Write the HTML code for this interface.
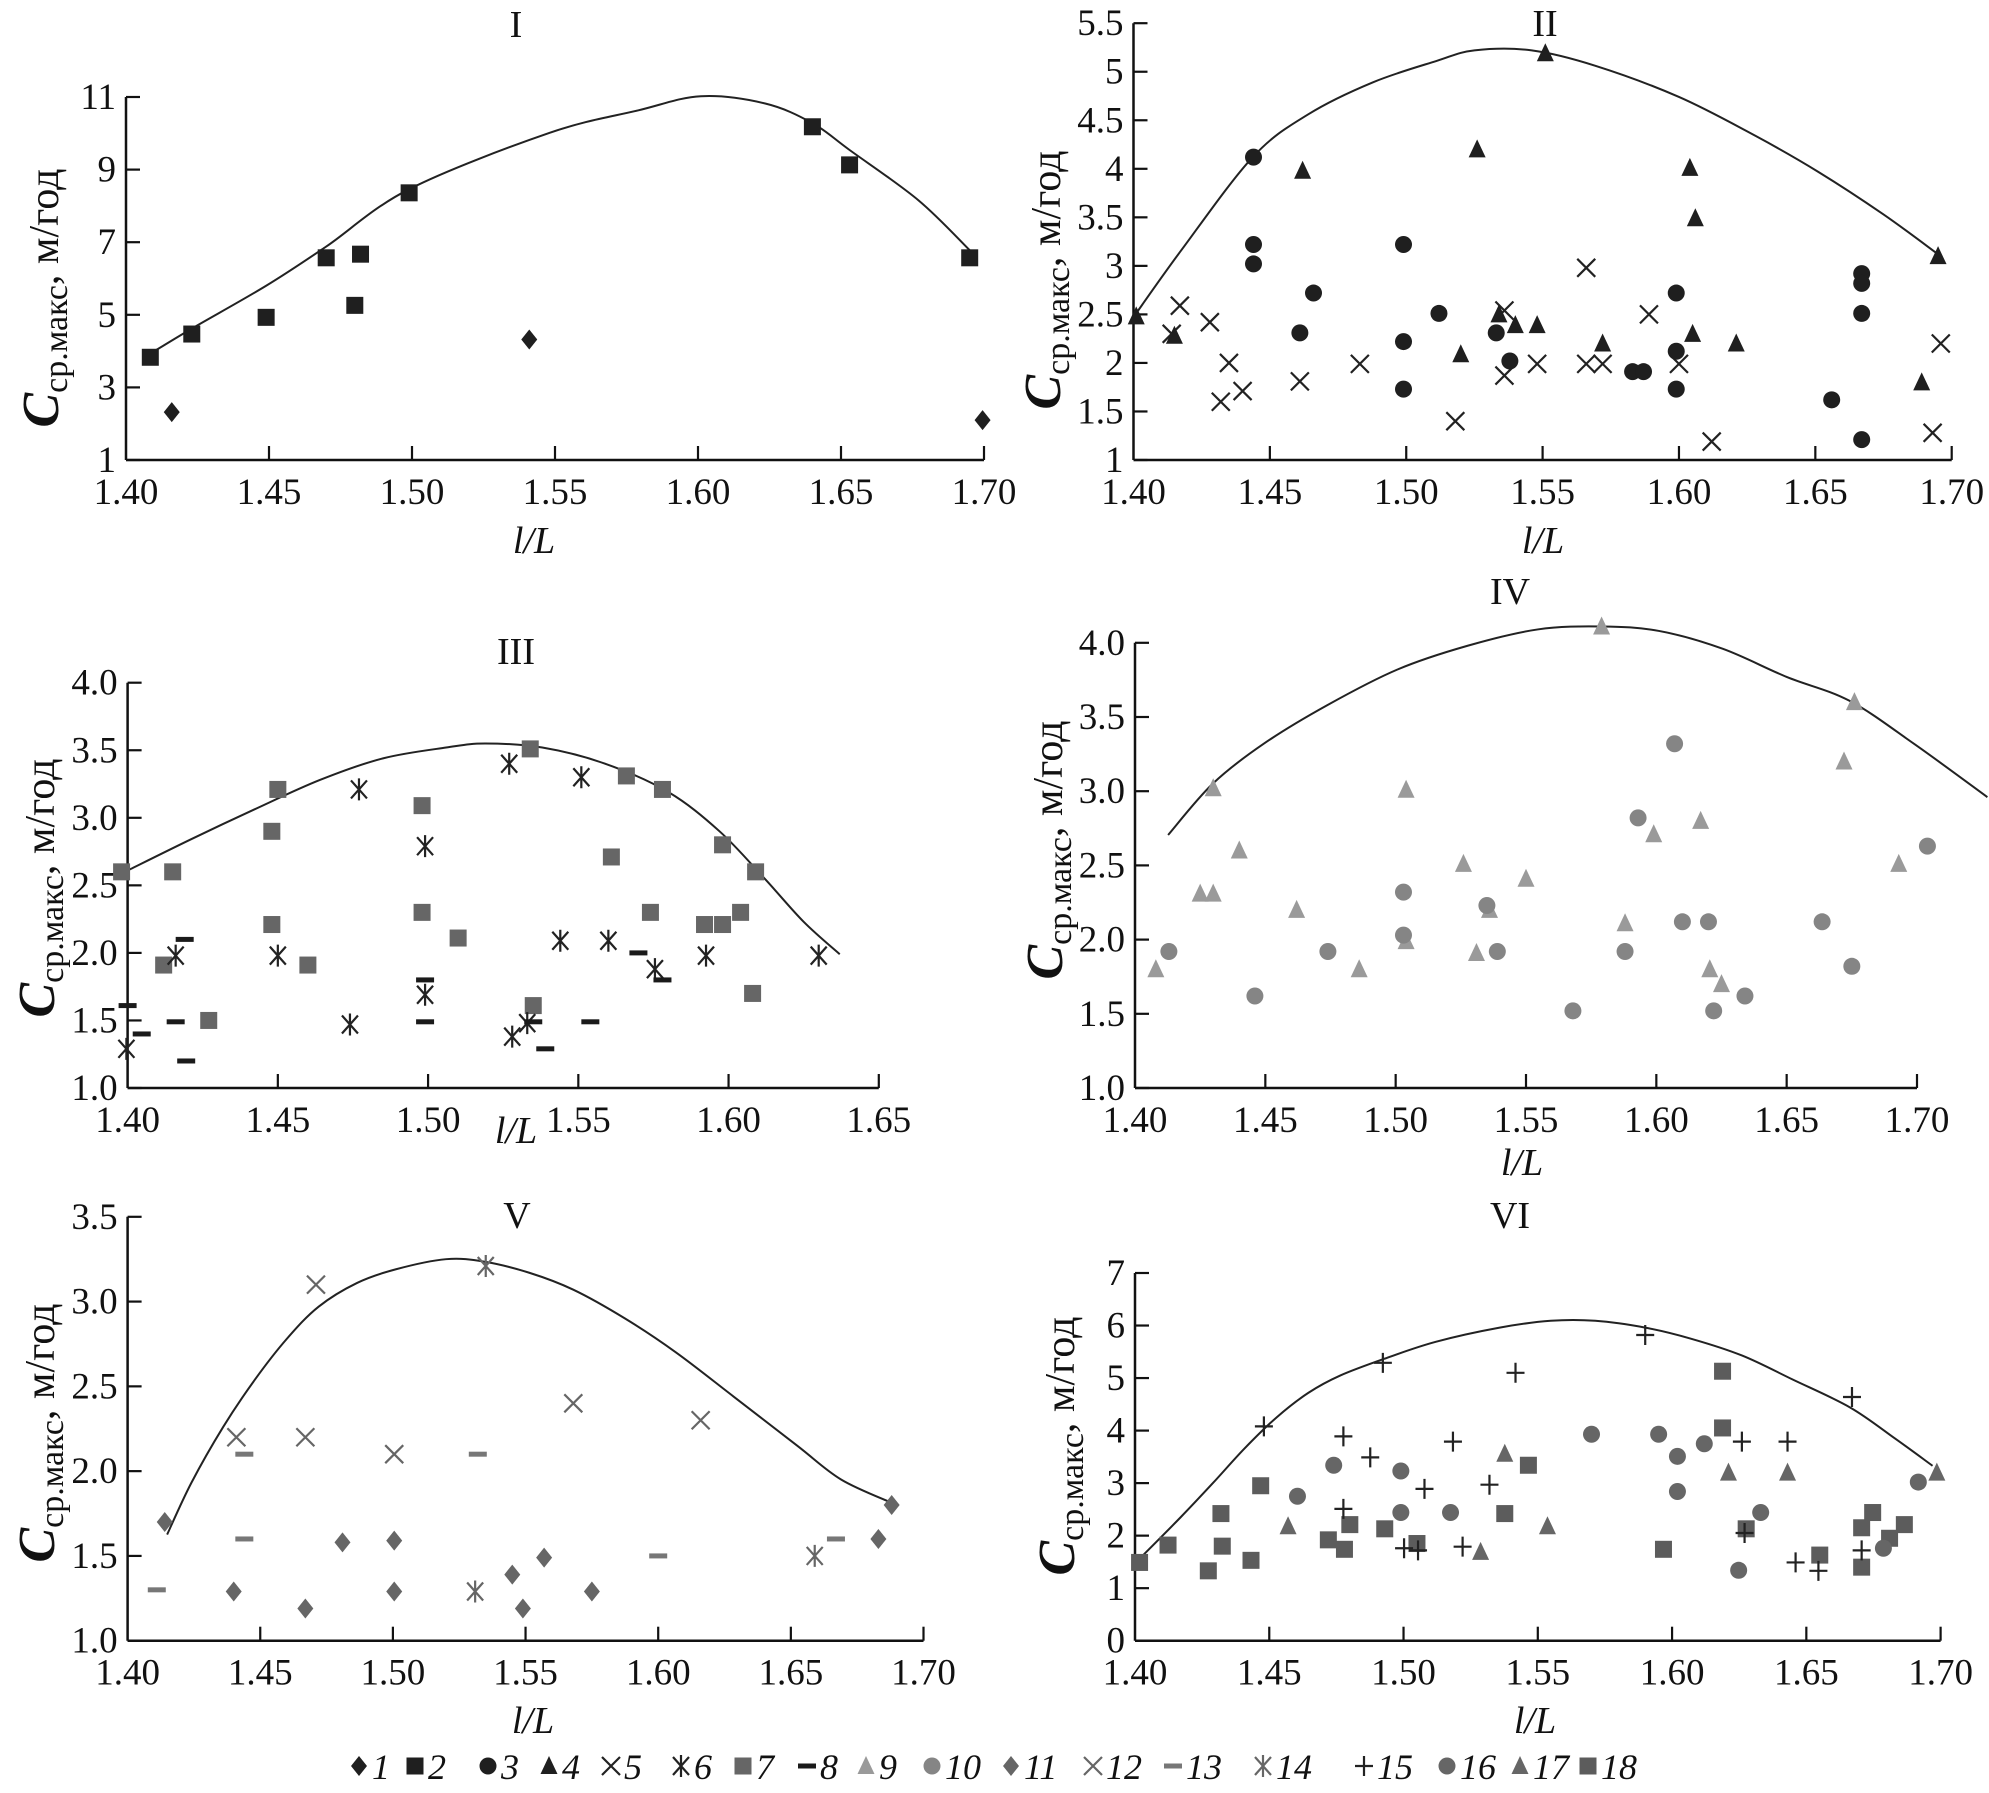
<!DOCTYPE html>
<html><head><meta charset="utf-8"><style>
html,body{margin:0;padding:0;background:#fff;}
svg{display:block;font-family:"Liberation Serif","DejaVu Serif",serif;}
</style></head><body>
<svg id="chart" width="1989" height="1793" viewBox="0 0 1989 1793" xmlns="http://www.w3.org/2000/svg"></svg>
<script>
// ---------- Panel I ----------
const p1_s2_x=[1.4085,1.423,1.449,1.470,1.482,1.480,1.499,1.640,1.653,1.695];
const p1_s2_y=[3.83,4.47,4.93,6.57,6.67,5.26,8.36,10.18,9.13,6.57];
const p1_s1_x=[1.416,1.541,1.6995];
const p1_s1_y=[2.32,4.32,2.10];
const p1_curve_x=[1.4085,1.423,1.449,1.470,1.499,1.548,1.579,1.601,1.6235,1.640,1.653,1.677,1.695];
const p1_curve_y=[3.93,4.62,5.80,6.88,8.46,10.01,10.63,11.02,10.82,10.28,9.54,8.16,6.78];
const p1_yticks=["1","3","5","7","9","11"];
const p1_xticks=["1.40","1.45","1.50","1.55","1.60","1.65","1.70"];
// ---------- Panel II ----------
const p2_s4_x=[1.401,1.415,1.462,1.526,1.551,1.520,1.534,1.540,1.548,1.572,1.604,1.606,1.605,1.621,1.689,1.695];
const p2_s4_y=[2.48,2.28,3.98,4.20,5.19,2.09,2.50,2.39,2.39,2.20,4.01,3.49,2.30,2.20,1.80,3.10];
const p2_s3_x=[1.444,1.444,1.444,1.466,1.461,1.499,1.499,1.499,1.512,1.533,1.538,1.583,1.587,1.599,1.599,1.599,1.656,1.667,1.667,1.667,1.667];
const p2_s3_y=[4.12,3.22,3.02,2.72,2.31,3.22,2.22,1.73,2.51,2.31,2.02,1.91,1.91,2.72,2.12,1.73,1.62,2.92,2.82,2.51,1.21];
const p2_s5_x=[1.414,1.417,1.428,1.435,1.432,1.440,1.461,1.483,1.518,1.536,1.536,1.548,1.566,1.566,1.572,1.589,1.600,1.612,1.693,1.696];
const p2_s5_y=[2.30,2.59,2.42,2.00,1.60,1.71,1.81,1.99,1.40,2.54,1.87,1.99,2.98,1.99,1.99,2.50,1.99,1.19,1.28,2.20];
const p2_curve_x=[1.4007,1.4175,1.4437,1.464,1.4877,1.511,1.525,1.546,1.5695,1.600,1.628,1.651,1.675,1.695];
const p2_curve_y=[2.50,3.16,4.12,4.56,4.89,5.11,5.22,5.22,5.06,4.74,4.34,3.97,3.53,3.12];
const p2_yticks=["1","1.5","2","2.5","3","3.5","4","4.5","5","5.5"];
const p2_xticks=["1.40","1.45","1.50","1.55","1.60","1.65","1.70"];
// ---------- Panel III ----------
const p3_s7_x=[1.398,1.415,1.412,1.427,1.448,1.450,1.448,1.460,1.498,1.498,1.510,1.534,1.535,1.561,1.566,1.574,1.578,1.592,1.598,1.598,1.604,1.609,1.608];
const p3_s7_y=[2.60,2.60,1.91,1.50,2.90,3.21,2.21,1.91,3.09,2.30,2.11,3.51,1.61,2.71,3.31,2.30,3.21,2.21,2.21,2.80,2.30,2.60,1.70];
const p3_s6_x=[1.3996,1.416,1.450,1.474,1.477,1.499,1.499,1.527,1.528,1.533,1.544,1.551,1.560,1.5755,1.5925,1.630];
const p3_s6_y=[1.29,1.98,1.98,1.47,3.21,2.79,1.69,3.40,1.38,1.48,2.09,3.30,2.09,1.88,1.98,1.98];
const p3_s8_x=[1.400,1.4047,1.416,1.419,1.4195,1.499,1.499,1.535,1.539,1.554,1.570,1.578];
const p3_s8_y=[1.61,1.40,1.49,2.10,1.20,1.80,1.49,1.49,1.29,1.49,2.00,1.80];
const p3_curve_x=[1.400,1.421,1.442,1.464,1.485,1.506,1.519,1.538,1.559,1.580,1.597,1.612,1.625,1.637];
const p3_curve_y=[2.61,2.84,3.06,3.28,3.44,3.52,3.55,3.52,3.40,3.19,2.90,2.55,2.23,1.99];
const p3_yticks=["1.0","1.5","2.0","2.5","3.0","3.5","4.0"];
const p3_xticks=["1.40","1.45","1.50","1.55","1.60","1.65"];
// ---------- Panel IV ----------
const p4_s9_x=[1.408,1.425,1.430,1.430,1.440,1.462,1.486,1.504,1.504,1.526,1.531,1.536,1.550,1.579,1.588,1.599,1.617,1.6205,1.625,1.672,1.676,1.693];
const p4_s9_y=[1.80,2.31,2.31,3.02,2.60,2.20,1.80,3.01,1.99,2.51,1.91,2.20,2.41,4.11,2.11,2.71,2.80,1.80,1.70,3.20,3.60,2.51];
const p4_s10_x=[1.413,1.446,1.474,1.503,1.503,1.535,1.539,1.568,1.588,1.593,1.607,1.610,1.620,1.622,1.634,1.6636,1.675,1.704];
const p4_s10_y=[1.92,1.62,1.92,2.32,2.03,2.23,1.92,1.52,1.92,2.82,3.32,2.12,2.12,1.52,1.62,2.12,1.82,2.63];
const p4_curve_x=[1.4127,1.4298,1.4494,1.4738,1.5007,1.5276,1.5545,1.579,1.601,1.6254,1.650,1.674,1.6988,1.727];
const p4_curve_y=[2.705,3.05,3.32,3.58,3.82,3.98,4.09,4.11,4.08,3.96,3.77,3.61,3.32,2.96];
const p4_yticks=["1.0","1.5","2.0","2.5","3.0","3.5","4.0"];
const p4_xticks=["1.40","1.45","1.50","1.55","1.60","1.65","1.70"];
// ---------- Panel V ----------
const p5_s11_x=[1.414,1.440,1.467,1.481,1.5005,1.5005,1.545,1.549,1.557,1.575,1.683,1.688];
const p5_s11_y=[1.70,1.29,1.19,1.58,1.59,1.29,1.39,1.19,1.49,1.29,1.60,1.80];
const p5_s12_x=[1.441,1.467,1.471,1.5005,1.568,1.616];
const p5_s12_y=[2.20,2.20,3.10,2.10,2.40,2.30];
const p5_s13_x=[1.411,1.444,1.444,1.532,1.600,1.667];
const p5_s13_y=[1.30,2.10,1.60,2.10,1.50,1.60];
const p5_s14_x=[1.535,1.531,1.659];
const p5_s14_y=[3.21,1.29,1.50];
const p5_curve_x=[1.4149,1.424,1.436,1.448,1.460,1.472,1.4865,1.501,1.520,1.5346,1.5514,1.568,1.5875,1.6067,1.6284,1.6524,1.669,1.6885];
const p5_curve_y=[1.626,1.93,2.26,2.54,2.78,2.97,3.11,3.19,3.25,3.235,3.17,3.07,2.90,2.70,2.44,2.15,1.95,1.81];
const p5_yticks=["1.0","1.5","2.0","2.5","3.0","3.5"];
const p5_xticks=["1.40","1.45","1.50","1.55","1.60","1.65","1.70"];
// ---------- Panel VI ----------
const p6_s15_x=[1.448,1.4776,1.4776,1.4876,1.4923,1.5002,1.5054,1.5078,1.5184,1.522,1.532,1.5417,1.590,1.626,1.627,1.643,1.646,1.6545,1.667,1.6706];
const p6_s15_y=[4.08,3.89,2.51,3.49,5.29,1.76,1.72,2.89,3.79,1.79,2.97,5.10,5.82,3.79,2.05,3.79,1.49,1.33,4.64,1.72];
const p6_s16_x=[1.4605,1.474,1.499,1.499,1.5175,1.570,1.595,1.602,1.602,1.612,1.6248,1.633,1.6787,1.6917];
const p6_s16_y=[2.75,3.34,3.23,2.44,2.44,3.93,3.93,3.51,2.84,3.75,1.34,2.44,1.76,3.02];
const p6_s17_x=[1.457,1.5287,1.5377,1.5536,1.621,1.643,1.6986];
const p6_s17_y=[2.18,1.69,3.56,2.18,3.20,3.20,3.20];
const p6_s18_x=[1.4017,1.4123,1.4273,1.432,1.4325,1.4432,1.4468,1.472,1.478,1.480,1.493,1.505,1.5377,1.5465,1.5968,1.6188,1.6188,1.6276,1.655,1.6706,1.6747,1.6706,1.681,1.6865];
const p6_s18_y=[1.49,1.82,1.33,2.42,1.80,1.53,2.95,1.92,1.74,2.21,2.13,1.85,2.42,3.34,1.74,5.13,4.05,2.13,1.63,2.15,2.44,1.40,1.95,2.21];
const p6_curve_x=[1.4017,1.417,1.429,1.4408,1.4527,1.4646,1.4765,1.493,1.512,1.5358,1.5548,1.5714,1.590,1.607,1.626,1.645,1.6663,1.683,1.697];
const p6_curve_y=[1.56,2.35,3.00,3.66,4.25,4.72,5.05,5.37,5.69,5.96,6.09,6.09,5.96,5.75,5.43,4.97,4.44,3.85,3.33];
const p6_yticks=["0","1","2","3","4","5","6","7"];
const p6_xticks=["1.40","1.45","1.50","1.55","1.60","1.65","1.70"];
// ---------- Legend ----------
const legend_labels=["1","2","3","4","5","6","7","8","9","10","11","12","13","14","15","16","17","18"];

const NS="http://www.w3.org/2000/svg";
const svg=document.getElementById('chart');
function mk(tag,attrs,parent){const e=document.createElementNS(NS,tag);for(const k in attrs)e.setAttribute(k,attrs[k]);(parent||svg).appendChild(e);return e;}

function marker(g,type,cx,cy,color,name){
  let e;
  if(type==='square'){e=mk('rect',{x:cx-8.5,y:cy-8.5,width:17,height:17,fill:color},g);}
  else if(type==='diamond'){e=mk('polygon',{points:`${cx},${cy-10} ${cx+8},${cy} ${cx},${cy+10} ${cx-8},${cy}`,fill:color},g);}
  else if(type==='circle'){e=mk('circle',{cx:cx,cy:cy,r:8.5,fill:color},g);}
  else if(type==='triangle'){e=mk('polygon',{points:`${cx},${cy-10} ${cx+8.5},${cy+8} ${cx-8.5},${cy+8}`,fill:color},g);}
  else if(type==='cross'){e=mk('path',{d:`M${cx-9},${cy-9}L${cx+9},${cy+9}M${cx+9},${cy-9}L${cx-9},${cy+9}`,stroke:color,'stroke-width':2.2,fill:'none'},g);}
  else if(type==='aster'){e=mk('path',{d:`M${cx-8},${cy-9}L${cx+8},${cy+9}M${cx+8},${cy-9}L${cx-8},${cy+9}M${cx},${cy-11}L${cx},${cy+11}`,stroke:color,'stroke-width':2.2,fill:'none'},g);}
  else if(type==='dash'){e=mk('rect',{x:cx-9,y:cy-2.5,width:18,height:5,fill:color},g);}
  else if(type==='plus'){e=mk('path',{d:`M${cx-9},${cy}L${cx+9},${cy}M${cx},${cy-10}L${cx},${cy+10}`,stroke:color,'stroke-width':2.2,fill:'none'},g);}
  
  
  return e;
}

function catmull(pts){
  let d=`M${pts[0][0]},${pts[0][1]}`;
  for(let i=0;i<pts.length-1;i++){
    const p0=pts[Math.max(0,i-1)],p1=pts[i],p2=pts[i+1],p3=pts[Math.min(pts.length-1,i+2)];
    const c1=[p1[0]+(p2[0]-p0[0])/6,p1[1]+(p2[1]-p0[1])/6];
    const c2=[p2[0]-(p3[0]-p1[0])/6,p2[1]-(p3[1]-p1[1])/6];
    d+=`C${c1[0]},${c1[1]} ${c2[0]},${c2[1]} ${p2[0]},${p2[1]}`;
  }
  return d;
}

function ylabel(g,x,cy){
  const t=mk('text',{transform:`translate(${x},${cy}) rotate(-90)`,'text-anchor':'middle','font-size':42,fill:'#111'},g);
  
  
  const a=mk('tspan',{'font-style':'italic','font-weight':'bold','font-size':52},t);a.textContent='C';
  const b=mk('tspan',{'font-size':34,dy:9},t);b.textContent='ср.макс';
  const c=mk('tspan',{dy:-9},t);c.textContent=', м/год';
}

function panel(cfg){
  const g=mk('g',{});
  
  
  const sx=v=>cfg.px0+(v-cfg.xmin)/(cfg.xmax-cfg.xmin)*(cfg.px1-cfg.px0);
  const sy=v=>cfg.py0-(v-cfg.ymin)/(cfg.ymax-cfg.ymin)*(cfg.py0-cfg.py1);
  const ax=mk('line',{x1:cfg.px0,y1:cfg.py0,x2:cfg.px0,y2:cfg.py1,stroke:'#111','stroke-width':2.5},g);
  
  
  const xend=sx(parseFloat(cfg.xticks[cfg.xticks.length-1]));
  const axx=mk('line',{x1:cfg.px0,y1:cfg.py0,x2:xend,y2:cfg.py0,stroke:'#111','stroke-width':2.5},g);
  
  
  cfg.yticks.forEach(l=>{
    const y=sy(parseFloat(l));
    mk('line',{x1:cfg.px0,y1:y,x2:cfg.px0+14,y2:y,stroke:'#111','stroke-width':2.2},g);
    const t=mk('text',{x:cfg.px0-10,y:y+12,'text-anchor':'end','font-size':37,fill:'#111'},g);
    
    
    t.textContent=l;
  });
  cfg.xticks.forEach((l,i)=>{
    const x=sx(parseFloat(l));
    if(i>0) mk('line',{x1:x,y1:cfg.py0,x2:x,y2:cfg.py0-14,stroke:'#111','stroke-width':2.2},g);
    const t=mk('text',{x:x,y:cfg.py0+44,'text-anchor':'middle','font-size':37,fill:'#111'},g);
    
    
    t.textContent=l;
  });
  const tt=mk('text',{x:cfg.tx,y:cfg.ty,'text-anchor':'middle','font-size':38,fill:'#111'},g);
  
  
  tt.textContent=cfg.title;
  const xl=mk('text',{x:cfg.lx,y:cfg.ly,'text-anchor':'middle','font-size':38,'font-style':'italic',fill:'#111'},g);
  
  
  xl.textContent='l/L';
  ylabel(g,cfg.ylx,cfg.yly);
  const pts=cfg.cx.map((v,i)=>[sx(v),sy(cfg.cy[i])]);
  const c=mk('path',{d:catmull(pts),fill:'none',stroke:'#222','stroke-width':2},g);
  
  
  cfg.series.forEach(s=>{
    s.x.forEach((v,i)=>marker(g,s.type,sx(v),sy(s.y[i]),s.color,s.name));
  });
}

panel({name:'panel-I',title:'I',px0:126,px1:984,xmin:1.40,xmax:1.70,py0:460,py1:97,ymin:1,ymax:11,
  xticks:p1_xticks,yticks:p1_yticks,tx:516,ty:37,lx:534,ly:553,ylx:58,yly:298,cx:p1_curve_x,cy:p1_curve_y,
  series:[{type:'square',color:'#1f1f1f',x:p1_s2_x,y:p1_s2_y,name:'series-2-point'},{type:'diamond',color:'#1f1f1f',x:p1_s1_x,y:p1_s1_y,name:'series-1-point'}]});
panel({name:'panel-II',title:'II',px0:1133.5,px1:1951.7,xmin:1.40,xmax:1.70,py0:460,py1:23.2,ymin:1,ymax:5.5,
  xticks:p2_xticks,yticks:p2_yticks,tx:1545,ty:36,lx:1543,ly:553,ylx:1060,yly:280,cx:p2_curve_x,cy:p2_curve_y,
  series:[{type:'cross',color:'#222',x:p2_s5_x,y:p2_s5_y,name:'series-5-point'},{type:'circle',color:'#1f1f1f',x:p2_s3_x,y:p2_s3_y,name:'series-3-point'},{type:'triangle',color:'#1f1f1f',x:p2_s4_x,y:p2_s4_y,name:'series-4-point'}]});
panel({name:'panel-III',title:'III',px0:127.6,px1:878.8,xmin:1.40,xmax:1.65,py0:1088,py1:682.7,ymin:1,ymax:4,
  xticks:p3_xticks,yticks:p3_yticks,tx:516,ty:664,lx:516,ly:1143,ylx:54,yly:888,cx:p3_curve_x,cy:p3_curve_y,
  series:[{type:'square',color:'#666',x:p3_s7_x,y:p3_s7_y,name:'series-7-point'},{type:'aster',color:'#222',x:p3_s6_x,y:p3_s6_y,name:'series-6-point'},{type:'dash',color:'#1a1a1a',x:p3_s8_x,y:p3_s8_y,name:'series-8-point'}]});
panel({name:'panel-IV',title:'IV',px0:1135,px1:1917,xmin:1.40,xmax:1.70,py0:1088,py1:642.8,ymin:1,ymax:4,
  xticks:p4_xticks,yticks:p4_yticks,tx:1510,ty:604,lx:1522,ly:1175,ylx:1062,yly:850,cx:p4_curve_x,cy:p4_curve_y,
  series:[{type:'triangle',color:'#9a9a9a',x:p4_s9_x,y:p4_s9_y,name:'series-9-point'},{type:'circle',color:'#858585',x:p4_s10_x,y:p4_s10_y,name:'series-10-point'}]});
panel({name:'panel-V',title:'V',px0:127.6,px1:923.5,xmin:1.40,xmax:1.70,py0:1640.7,py1:1216.8,ymin:1,ymax:3.5,
  xticks:p5_xticks,yticks:p5_yticks,tx:517,ty:1228,lx:533,ly:1733,ylx:54,yly:1433,cx:p5_curve_x,cy:p5_curve_y,
  series:[{type:'diamond',color:'#666',x:p5_s11_x,y:p5_s11_y,name:'series-11-point'},{type:'cross',color:'#666',x:p5_s12_x,y:p5_s12_y,name:'series-12-point'},{type:'dash',color:'#777',x:p5_s13_x,y:p5_s13_y,name:'series-13-point'},{type:'aster',color:'#666',x:p5_s14_x,y:p5_s14_y,name:'series-14-point'}]});
panel({name:'panel-VI',title:'VI',px0:1135,px1:1940.6,xmin:1.40,xmax:1.70,py0:1640.7,py1:1273,ymin:0,ymax:7,
  xticks:p6_xticks,yticks:p6_yticks,tx:1510,ty:1228,lx:1535,ly:1733,ylx:1074,yly:1446,cx:p6_curve_x,cy:p6_curve_y,
  series:[{type:'square',color:'#5c5c5c',x:p6_s18_x,y:p6_s18_y,name:'series-18-point'},{type:'circle',color:'#666',x:p6_s16_x,y:p6_s16_y,name:'series-16-point'},{type:'triangle',color:'#666',x:p6_s17_x,y:p6_s17_y,name:'series-17-point'},{type:'plus',color:'#222',x:p6_s15_x,y:p6_s15_y,name:'series-15-point'}]});

const lg=mk('g',{});


const legTypes=['diamond','square','circle','triangle','cross','aster','square','dash','triangle','circle','diamond','cross','dash','aster','plus','circle','triangle','square'];
const legColors=['#1f1f1f','#1f1f1f','#1f1f1f','#1f1f1f','#222','#222','#666','#1a1a1a','#9a9a9a','#858585','#666','#666','#777','#666','#222','#666','#666','#5c5c5c'];
const legX=[359,415,488,549,611,681,743,807,866,932,1011,1093,1173,1263,1364,1447,1520,1588];
legend_labels.forEach((l,i)=>{
  marker(lg,legTypes[i],legX[i],1766,legColors[i],'legend-marker');
  const t=mk('text',{x:legX[i]+13,y:1779,'font-size':36,'font-style':'italic',fill:'#111'},lg);
  
  
  t.textContent=l;
});
</script>
</body></html>
